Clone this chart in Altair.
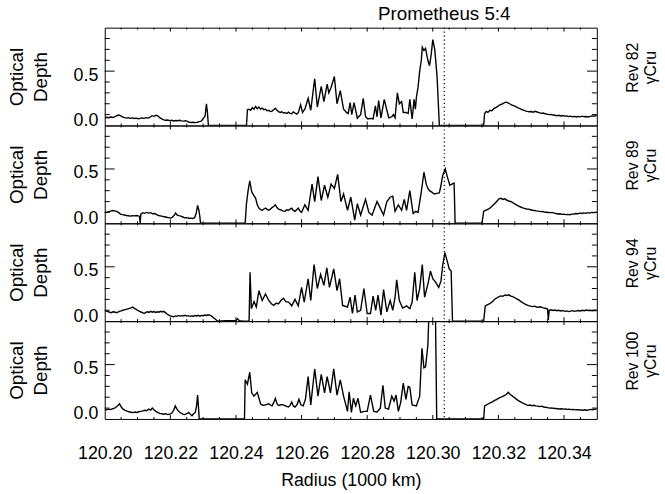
import altair as alt
import pandas as pd

FONT = "Liberation Sans"
W, H = 498, 99
X_DOMAIN = [120.20, 120.35]
Y_DOMAIN = [0.0, 0.9]

X_LABELS = [120.20, 120.22, 120.24, 120.26, 120.28, 120.30, 120.32, 120.34]
X_MINOR = [120.205, 120.210, 120.215, 120.225, 120.230, 120.235, 120.245, 120.250,
           120.255, 120.265, 120.270, 120.275, 120.285, 120.290, 120.295, 120.305,
           120.310, 120.315, 120.325, 120.330, 120.335, 120.345]
Y_LABELS = [0.0, 0.5]
Y_MINOR = [0.1, 0.2, 0.3, 0.4, 0.6, 0.7, 0.8]
RESONANCE_R = 120.3035
RESONANCE_LABEL = "Prometheus 5:4"
X_TITLE = "Radius (1000 km)"
Y_TITLE = ["Optical", "Depth"]
PANEL_LABELS = [["Rev 82", "γCru"], ["Rev 89", "γCru"], ["Rev 94", "γCru"], ["Rev 100", "γCru"]]

REV82 = [
    (120.2000, 0.070), (120.2006, 0.076), (120.2012, 0.072), (120.2018, 0.078), (120.2024, 0.074),
    (120.2030, 0.080), (120.2036, 0.088), (120.2042, 0.096), (120.2048, 0.090), (120.2054, 0.080),
    (120.2060, 0.072), (120.2066, 0.068), (120.2072, 0.072), (120.2078, 0.066), (120.2084, 0.070),
    (120.2090, 0.064), (120.2096, 0.068), (120.2102, 0.062), (120.2108, 0.066), (120.2114, 0.070),
    (120.2120, 0.066), (120.2126, 0.072), (120.2132, 0.068), (120.2138, 0.076), (120.2144, 0.090),
    (120.2150, 0.084), (120.2156, 0.094), (120.2162, 0.088), (120.2168, 0.072), (120.2174, 0.060),
    (120.2180, 0.052), (120.2186, 0.048), (120.2192, 0.050), (120.2198, 0.045), (120.2204, 0.048),
    (120.2210, 0.042), (120.2216, 0.046), (120.2222, 0.044), (120.2228, 0.048), (120.2234, 0.042),
    (120.2240, 0.040), (120.2246, 0.044), (120.2252, 0.038), (120.2258, 0.030), (120.2264, 0.028),
    (120.2270, 0.030), (120.2276, 0.026), (120.2282, 0.030), (120.2288, 0.036), (120.2294, 0.040),
    (120.2298, 0.055), (120.2303, 0.075), (120.2306, 0.090), (120.2310, 0.200), (120.2313, 0.120),
    (120.2316, 0.000), (120.2432, 0.000), (120.2435, 0.145), (120.2440, 0.150), (120.2445, 0.140),
    (120.2450, 0.165), (120.2455, 0.150), (120.2460, 0.175), (120.2465, 0.155), (120.2470, 0.170),
    (120.2475, 0.150), (120.2480, 0.160), (120.2485, 0.145), (120.2490, 0.150), (120.2495, 0.135),
    (120.2500, 0.140), (120.2505, 0.128), (120.2510, 0.132), (120.2515, 0.145), (120.2520, 0.158),
    (120.2525, 0.140), (120.2530, 0.128), (120.2535, 0.120), (120.2540, 0.126), (120.2545, 0.115),
    (120.2550, 0.118), (120.2555, 0.110), (120.2560, 0.122), (120.2565, 0.112), (120.2570, 0.108),
    (120.2575, 0.125), (120.2580, 0.115), (120.2585, 0.105), (120.2590, 0.118), (120.2597, 0.190),
    (120.2603, 0.120), (120.2610, 0.150), (120.2620, 0.250), (120.2628, 0.140), (120.2640, 0.430),
    (120.2648, 0.170), (120.2660, 0.360), (120.2668, 0.220), (120.2678, 0.380), (120.2683, 0.300),
    (120.2690, 0.350), (120.2700, 0.450), (120.2708, 0.200), (120.2718, 0.320), (120.2728, 0.150),
    (120.2737, 0.120), (120.2742, 0.110), (120.2748, 0.210), (120.2753, 0.100), (120.2760, 0.210),
    (120.2770, 0.067), (120.2780, 0.100), (120.2788, 0.250), (120.2795, 0.080), (120.2802, 0.060),
    (120.2810, 0.065), (120.2818, 0.060), (120.2825, 0.180), (120.2830, 0.080), (120.2835, 0.230),
    (120.2842, 0.070), (120.2852, 0.240), (120.2860, 0.140), (120.2866, 0.070), (120.2875, 0.080),
    (120.2880, 0.100), (120.2885, 0.070), (120.2892, 0.300), (120.2898, 0.200), (120.2905, 0.220),
    (120.2910, 0.120), (120.2918, 0.120), (120.2925, 0.110), (120.2930, 0.240), (120.2937, 0.060),
    (120.2943, 0.240), (120.2947, 0.150), (120.2950, 0.260), (120.2955, 0.350), (120.2960, 0.500),
    (120.2965, 0.600), (120.2968, 0.720), (120.2973, 0.690), (120.2978, 0.710), (120.2985, 0.600),
    (120.2990, 0.550), (120.2995, 0.650), (120.3000, 0.790), (120.3006, 0.700), (120.3013, 0.450),
    (120.3020, 0.000), (120.3155, 0.000), (120.3158, 0.110), (120.3163, 0.130), (120.3168, 0.120),
    (120.3174, 0.140), (120.3180, 0.135), (120.3186, 0.155), (120.3192, 0.165), (120.3198, 0.175),
    (120.3204, 0.190), (120.3210, 0.195), (120.3216, 0.205), (120.3222, 0.215), (120.3228, 0.210),
    (120.3234, 0.200), (120.3240, 0.190), (120.3246, 0.182), (120.3252, 0.175), (120.3258, 0.165),
    (120.3264, 0.158), (120.3270, 0.148), (120.3276, 0.142), (120.3282, 0.135), (120.3288, 0.130),
    (120.3294, 0.126), (120.3300, 0.128), (120.3306, 0.122), (120.3312, 0.130), (120.3318, 0.124),
    (120.3324, 0.118), (120.3330, 0.112), (120.3336, 0.115), (120.3342, 0.108), (120.3348, 0.104),
    (120.3354, 0.100), (120.3360, 0.102), (120.3366, 0.096), (120.3372, 0.094), (120.3378, 0.090),
    (120.3384, 0.094), (120.3390, 0.088), (120.3396, 0.092), (120.3402, 0.086), (120.3408, 0.088),
    (120.3414, 0.082), (120.3420, 0.086), (120.3426, 0.080), (120.3432, 0.084), (120.3438, 0.078),
    (120.3444, 0.084), (120.3450, 0.080), (120.3456, 0.086), (120.3462, 0.080), (120.3468, 0.082),
    (120.3474, 0.078), (120.3480, 0.084), (120.3486, 0.088), (120.3492, 0.086), (120.3500, 0.092),
]

REV89 = [
    (120.2000, 0.106), (120.2006, 0.100), (120.2012, 0.108), (120.2018, 0.112), (120.2024, 0.118),
    (120.2030, 0.114), (120.2036, 0.110), (120.2042, 0.100), (120.2048, 0.085), (120.2054, 0.080),
    (120.2060, 0.076), (120.2066, 0.072), (120.2072, 0.070), (120.2078, 0.066), (120.2084, 0.070),
    (120.2090, 0.068), (120.2096, 0.072), (120.2102, 0.068), (120.2106, 0.064), (120.2108, 0.000),
    (120.2110, 0.085), (120.2116, 0.098), (120.2122, 0.092), (120.2128, 0.100), (120.2134, 0.094),
    (120.2140, 0.098), (120.2146, 0.088), (120.2152, 0.090), (120.2158, 0.080), (120.2164, 0.072),
    (120.2170, 0.068), (120.2176, 0.064), (120.2182, 0.060), (120.2188, 0.056), (120.2194, 0.052),
    (120.2200, 0.048), (120.2206, 0.055), (120.2212, 0.075), (120.2216, 0.095), (120.2220, 0.078),
    (120.2226, 0.070), (120.2232, 0.066), (120.2238, 0.058), (120.2244, 0.050), (120.2250, 0.052),
    (120.2256, 0.046), (120.2262, 0.048), (120.2268, 0.044), (120.2274, 0.052), (120.2279, 0.095),
    (120.2283, 0.165), (120.2287, 0.120), (120.2290, 0.060), (120.2292, 0.000), (120.2428, 0.000),
    (120.2432, 0.180), (120.2437, 0.300), (120.2442, 0.390), (120.2448, 0.290), (120.2454, 0.260),
    (120.2460, 0.230), (120.2465, 0.170), (120.2470, 0.140), (120.2475, 0.125), (120.2480, 0.120),
    (120.2485, 0.132), (120.2490, 0.140), (120.2495, 0.128), (120.2500, 0.120), (120.2505, 0.130),
    (120.2510, 0.145), (120.2515, 0.155), (120.2520, 0.170), (120.2525, 0.145), (120.2530, 0.130),
    (120.2535, 0.125), (120.2540, 0.118), (120.2545, 0.112), (120.2550, 0.110), (120.2555, 0.125),
    (120.2560, 0.120), (120.2565, 0.130), (120.2570, 0.140), (120.2575, 0.118), (120.2580, 0.110),
    (120.2585, 0.125), (120.2590, 0.140), (120.2595, 0.112), (120.2600, 0.100), (120.2610, 0.170),
    (120.2620, 0.120), (120.2632, 0.360), (120.2640, 0.200), (120.2650, 0.430), (120.2660, 0.210),
    (120.2670, 0.350), (120.2680, 0.240), (120.2690, 0.360), (120.2700, 0.320), (120.2710, 0.450),
    (120.2720, 0.200), (120.2728, 0.270), (120.2740, 0.120), (120.2750, 0.240), (120.2758, 0.100),
    (120.2762, 0.030), (120.2770, 0.180), (120.2780, 0.076), (120.2795, 0.220), (120.2805, 0.100),
    (120.2815, 0.076), (120.2830, 0.200), (120.2840, 0.140), (120.2850, 0.076), (120.2860, 0.200),
    (120.2870, 0.240), (120.2878, 0.250), (120.2885, 0.110), (120.2895, 0.170), (120.2905, 0.120),
    (120.2913, 0.220), (120.2920, 0.120), (120.2930, 0.300), (120.2940, 0.090), (120.2948, 0.110),
    (120.2955, 0.100), (120.2965, 0.290), (120.2973, 0.470), (120.2980, 0.360), (120.2985, 0.320),
    (120.2990, 0.300), (120.2998, 0.285), (120.3005, 0.270), (120.3012, 0.275), (120.3020, 0.280),
    (120.3025, 0.350), (120.3030, 0.440), (120.3038, 0.500), (120.3045, 0.420), (120.3052, 0.350),
    (120.3058, 0.360), (120.3065, 0.370), (120.3068, 0.000), (120.3150, 0.000), (120.3155, 0.110),
    (120.3160, 0.118), (120.3166, 0.125), (120.3172, 0.135), (120.3178, 0.150), (120.3184, 0.168),
    (120.3190, 0.185), (120.3196, 0.205), (120.3202, 0.225), (120.3208, 0.230), (120.3214, 0.220),
    (120.3220, 0.225), (120.3226, 0.212), (120.3232, 0.205), (120.3238, 0.200), (120.3244, 0.190),
    (120.3250, 0.178), (120.3256, 0.168), (120.3262, 0.158), (120.3268, 0.150), (120.3274, 0.142),
    (120.3280, 0.138), (120.3286, 0.132), (120.3292, 0.130), (120.3298, 0.125), (120.3304, 0.120),
    (120.3310, 0.118), (120.3316, 0.114), (120.3322, 0.112), (120.3328, 0.108), (120.3334, 0.110),
    (120.3340, 0.104), (120.3346, 0.102), (120.3352, 0.100), (120.3358, 0.098), (120.3364, 0.100),
    (120.3370, 0.094), (120.3376, 0.090), (120.3382, 0.086), (120.3388, 0.088), (120.3394, 0.082),
    (120.3400, 0.084), (120.3406, 0.080), (120.3412, 0.082), (120.3418, 0.078), (120.3424, 0.084),
    (120.3430, 0.086), (120.3436, 0.090), (120.3442, 0.088), (120.3448, 0.094), (120.3454, 0.090),
    (120.3460, 0.096), (120.3466, 0.092), (120.3472, 0.098), (120.3478, 0.094), (120.3484, 0.100),
    (120.3490, 0.098), (120.3500, 0.102),
]

REV94 = [
    (120.2000, 0.100), (120.2005, 0.092), (120.2010, 0.088), (120.2015, 0.082), (120.2020, 0.078),
    (120.2025, 0.086), (120.2030, 0.084), (120.2035, 0.078), (120.2040, 0.082), (120.2045, 0.090),
    (120.2050, 0.094), (120.2055, 0.100), (120.2060, 0.104), (120.2065, 0.108), (120.2070, 0.112),
    (120.2075, 0.118), (120.2080, 0.122), (120.2085, 0.130), (120.2090, 0.118), (120.2095, 0.110),
    (120.2100, 0.100), (120.2105, 0.092), (120.2110, 0.084), (120.2115, 0.078), (120.2120, 0.070),
    (120.2125, 0.080), (120.2130, 0.086), (120.2135, 0.080), (120.2140, 0.090), (120.2145, 0.082),
    (120.2150, 0.088), (120.2155, 0.080), (120.2160, 0.086), (120.2165, 0.082), (120.2170, 0.090),
    (120.2175, 0.084), (120.2180, 0.090), (120.2185, 0.078), (120.2190, 0.066), (120.2195, 0.055),
    (120.2200, 0.048), (120.2205, 0.044), (120.2210, 0.040), (120.2215, 0.048), (120.2220, 0.044),
    (120.2225, 0.052), (120.2230, 0.046), (120.2235, 0.050), (120.2240, 0.048), (120.2245, 0.054),
    (120.2250, 0.046), (120.2255, 0.050), (120.2260, 0.044), (120.2265, 0.048), (120.2270, 0.045),
    (120.2275, 0.052), (120.2280, 0.048), (120.2285, 0.054), (120.2290, 0.046), (120.2295, 0.052),
    (120.2300, 0.050), (120.2305, 0.056), (120.2310, 0.052), (120.2315, 0.058), (120.2320, 0.055),
    (120.2325, 0.048), (120.2330, 0.035), (120.2335, 0.025), (120.2340, 0.010), (120.2345, 0.000),
    (120.2370, 0.005), (120.2385, 0.003), (120.2400, 0.006), (120.2405, 0.022), (120.2410, 0.005),
    (120.2420, 0.002), (120.2440, 0.000), (120.2443, 0.450), (120.2447, 0.115), (120.2455, 0.180),
    (120.2462, 0.130), (120.2470, 0.280), (120.2480, 0.190), (120.2490, 0.250), (120.2500, 0.190),
    (120.2508, 0.160), (120.2515, 0.145), (120.2522, 0.165), (120.2530, 0.160), (120.2537, 0.190),
    (120.2545, 0.210), (120.2552, 0.180), (120.2560, 0.175), (120.2565, 0.160), (120.2570, 0.140),
    (120.2580, 0.200), (120.2590, 0.140), (120.2600, 0.310), (120.2608, 0.175), (120.2620, 0.390),
    (120.2628, 0.190), (120.2638, 0.520), (120.2648, 0.300), (120.2658, 0.430), (120.2668, 0.330),
    (120.2677, 0.490), (120.2685, 0.310), (120.2698, 0.480), (120.2708, 0.280), (120.2716, 0.390),
    (120.2725, 0.145), (120.2740, 0.130), (120.2748, 0.220), (120.2755, 0.070), (120.2763, 0.240),
    (120.2770, 0.085), (120.2780, 0.100), (120.2790, 0.300), (120.2800, 0.070), (120.2810, 0.070),
    (120.2818, 0.230), (120.2826, 0.100), (120.2833, 0.240), (120.2842, 0.055), (120.2850, 0.290),
    (120.2860, 0.085), (120.2870, 0.190), (120.2878, 0.100), (120.2885, 0.220), (120.2890, 0.380),
    (120.2898, 0.190), (120.2908, 0.120), (120.2920, 0.140), (120.2930, 0.115), (120.2937, 0.175),
    (120.2945, 0.450), (120.2952, 0.190), (120.2960, 0.300), (120.2968, 0.520), (120.2975, 0.220),
    (120.2985, 0.340), (120.2993, 0.460), (120.3000, 0.390), (120.3008, 0.360), (120.3018, 0.310),
    (120.3025, 0.370), (120.3030, 0.510), (120.3037, 0.630), (120.3045, 0.540), (120.3050, 0.480),
    (120.3056, 0.460), (120.3060, 0.000), (120.3155, 0.000), (120.3160, 0.140), (120.3166, 0.150),
    (120.3172, 0.158), (120.3178, 0.170), (120.3184, 0.185), (120.3190, 0.205), (120.3196, 0.215),
    (120.3202, 0.225), (120.3208, 0.232), (120.3214, 0.228), (120.3220, 0.240), (120.3226, 0.236),
    (120.3232, 0.242), (120.3238, 0.230), (120.3244, 0.225), (120.3250, 0.215), (120.3256, 0.205),
    (120.3262, 0.195), (120.3268, 0.182), (120.3274, 0.170), (120.3280, 0.158), (120.3286, 0.150),
    (120.3292, 0.142), (120.3298, 0.138), (120.3304, 0.134), (120.3310, 0.138), (120.3316, 0.130),
    (120.3322, 0.128), (120.3328, 0.132), (120.3334, 0.124), (120.3340, 0.120), (120.3346, 0.116),
    (120.3350, 0.110), (120.3352, 0.010), (120.3355, 0.100), (120.3360, 0.104), (120.3366, 0.098),
    (120.3372, 0.102), (120.3378, 0.096), (120.3384, 0.100), (120.3390, 0.094), (120.3396, 0.098),
    (120.3402, 0.090), (120.3408, 0.094), (120.3414, 0.088), (120.3420, 0.092), (120.3426, 0.096),
    (120.3432, 0.090), (120.3438, 0.094), (120.3444, 0.098), (120.3450, 0.094), (120.3456, 0.100),
    (120.3462, 0.096), (120.3468, 0.102), (120.3474, 0.098), (120.3480, 0.100), (120.3486, 0.096),
    (120.3492, 0.100), (120.3500, 0.098),
]

REV100 = [
    (120.2000, 0.090), (120.2006, 0.084), (120.2012, 0.090), (120.2018, 0.086), (120.2024, 0.094),
    (120.2030, 0.100), (120.2036, 0.112), (120.2041, 0.125), (120.2045, 0.140), (120.2050, 0.112),
    (120.2055, 0.092), (120.2062, 0.080), (120.2068, 0.072), (120.2074, 0.066), (120.2080, 0.062),
    (120.2086, 0.058), (120.2092, 0.064), (120.2098, 0.060), (120.2104, 0.066), (120.2110, 0.070),
    (120.2116, 0.074), (120.2122, 0.080), (120.2128, 0.076), (120.2134, 0.090), (120.2140, 0.082),
    (120.2145, 0.100), (120.2150, 0.084), (120.2156, 0.070), (120.2162, 0.058), (120.2168, 0.052),
    (120.2174, 0.048), (120.2180, 0.044), (120.2186, 0.048), (120.2192, 0.040), (120.2198, 0.044),
    (120.2204, 0.052), (120.2210, 0.080), (120.2215, 0.120), (120.2220, 0.090), (120.2226, 0.068),
    (120.2232, 0.055), (120.2238, 0.044), (120.2244, 0.040), (120.2250, 0.048), (120.2256, 0.060),
    (120.2262, 0.040), (120.2266, 0.030), (120.2270, 0.045), (120.2276, 0.060), (120.2280, 0.120),
    (120.2283, 0.220), (120.2286, 0.100), (120.2288, 0.000), (120.2426, 0.000), (120.2428, 0.360),
    (120.2435, 0.320), (120.2442, 0.430), (120.2448, 0.240), (120.2455, 0.210), (120.2465, 0.245),
    (120.2475, 0.140), (120.2480, 0.128), (120.2485, 0.125), (120.2492, 0.132), (120.2500, 0.140),
    (120.2505, 0.128), (120.2510, 0.120), (120.2515, 0.150), (120.2520, 0.190), (120.2525, 0.140),
    (120.2530, 0.125), (120.2538, 0.132), (120.2545, 0.130), (120.2552, 0.118), (120.2560, 0.110),
    (120.2565, 0.125), (120.2570, 0.155), (120.2575, 0.120), (120.2580, 0.110), (120.2586, 0.130),
    (120.2592, 0.180), (120.2598, 0.130), (120.2605, 0.120), (120.2612, 0.185), (120.2620, 0.390),
    (120.2628, 0.130), (120.2640, 0.460), (120.2650, 0.210), (120.2660, 0.410), (120.2670, 0.240),
    (120.2678, 0.390), (120.2688, 0.240), (120.2698, 0.460), (120.2708, 0.220), (120.2718, 0.360),
    (120.2728, 0.210), (120.2740, 0.070), (120.2745, 0.250), (120.2752, 0.060), (120.2758, 0.190),
    (120.2765, 0.120), (120.2772, 0.190), (120.2780, 0.060), (120.2790, 0.070), (120.2800, 0.070),
    (120.2810, 0.220), (120.2820, 0.070), (120.2830, 0.065), (120.2840, 0.100), (120.2848, 0.310),
    (120.2855, 0.100), (120.2865, 0.090), (120.2875, 0.210), (120.2882, 0.165), (120.2888, 0.220),
    (120.2895, 0.070), (120.2902, 0.150), (120.2910, 0.330), (120.2918, 0.180), (120.2925, 0.300),
    (120.2930, 0.290), (120.2937, 0.130), (120.2950, 0.120), (120.2960, 0.210), (120.2967, 0.650),
    (120.2973, 0.470), (120.2978, 0.480), (120.2985, 0.680), (120.2988, 0.950), (120.2992, 1.000),
    (120.3008, 1.000), (120.3012, 0.000), (120.3155, 0.000), (120.3158, 0.120), (120.3164, 0.130),
    (120.3170, 0.140), (120.3176, 0.150), (120.3182, 0.158), (120.3188, 0.170), (120.3194, 0.178),
    (120.3200, 0.190), (120.3206, 0.198), (120.3212, 0.205), (120.3218, 0.215), (120.3224, 0.225),
    (120.3230, 0.245), (120.3236, 0.225), (120.3242, 0.212), (120.3248, 0.198), (120.3254, 0.185),
    (120.3260, 0.170), (120.3266, 0.160), (120.3272, 0.150), (120.3278, 0.140), (120.3284, 0.132),
    (120.3290, 0.125), (120.3296, 0.128), (120.3302, 0.122), (120.3308, 0.126), (120.3314, 0.120),
    (120.3320, 0.118), (120.3326, 0.114), (120.3332, 0.118), (120.3338, 0.110), (120.3344, 0.108),
    (120.3350, 0.104), (120.3356, 0.100), (120.3362, 0.102), (120.3368, 0.098), (120.3374, 0.096),
    (120.3380, 0.094), (120.3386, 0.092), (120.3392, 0.094), (120.3398, 0.090), (120.3404, 0.092),
    (120.3410, 0.088), (120.3416, 0.090), (120.3422, 0.086), (120.3428, 0.088), (120.3434, 0.084),
    (120.3440, 0.086), (120.3446, 0.082), (120.3452, 0.084), (120.3458, 0.080), (120.3464, 0.084),
    (120.3470, 0.080), (120.3476, 0.084), (120.3482, 0.088), (120.3488, 0.084), (120.3494, 0.090),
    (120.3500, 0.092),
]

SERIES = [REV82, REV89, REV94, REV100]

X_MAJOR_TICK, X_MINOR_TICK = 4, 2
Y_MAJOR_TICK, Y_MINOR_TICK = 10, 5


def panel(points, label, first, last):
    df = pd.DataFrame(points, columns=["r", "d"])
    if last:
        xaxis = alt.Axis(values=X_LABELS, format=".2f", title=X_TITLE, ticks=False,
                         domain=False, grid=False, labelFlush=False, labelPadding=26,
                         titlePadding=9)
    else:
        xaxis = None
    yaxis = alt.Axis(values=Y_LABELS, format=".1f", title=Y_TITLE, ticks=False,
                     domain=False, grid=False, labelPadding=7, titlePadding=23,
                     titleLineHeight=24, titleFontSize=19,
                     labelOffset={"condition": {"test": "datum.value === 0", "value": -5},
                                  "value": 4})
    xs = alt.Scale(domain=X_DOMAIN, nice=False, zero=False)
    ys = alt.Scale(domain=Y_DOMAIN, nice=False, zero=False)
    x = alt.X("r:Q", scale=xs, axis=xaxis)
    y = alt.Y("d:Q", scale=ys, axis=yaxis)

    line = alt.Chart(df).mark_line(color="black", strokeWidth=1.4, clip=True,
                                   interpolate="linear").encode(x=x, y=y)

    xmaj = pd.DataFrame({"r": X_LABELS[1:]})
    xmin = pd.DataFrame({"r": X_MINOR})
    ymaj = pd.DataFrame({"d": [0.5]})
    ymin = pd.DataFrame({"d": Y_MINOR})
    rule = dict(color="black", strokeWidth=1)
    layers = [
        alt.Chart(xmaj).mark_rule(**rule).encode(x=x, y=alt.value(H), y2=alt.value(H - X_MAJOR_TICK)),
        alt.Chart(xmaj).mark_rule(**rule).encode(x=x, y=alt.value(0), y2=alt.value(X_MAJOR_TICK)),
        alt.Chart(xmin).mark_rule(**rule).encode(x=x, y=alt.value(H), y2=alt.value(H - X_MINOR_TICK)),
        alt.Chart(xmin).mark_rule(**rule).encode(x=x, y=alt.value(0), y2=alt.value(X_MINOR_TICK)),
        alt.Chart(ymaj).mark_rule(**rule).encode(y=y, x=alt.value(0), x2=alt.value(Y_MAJOR_TICK)),
        alt.Chart(ymaj).mark_rule(**rule).encode(y=y, x=alt.value(W), x2=alt.value(W - Y_MAJOR_TICK)),
        alt.Chart(ymin).mark_rule(**rule).encode(y=y, x=alt.value(0), x2=alt.value(Y_MINOR_TICK)),
        alt.Chart(ymin).mark_rule(**rule).encode(y=y, x=alt.value(W), x2=alt.value(W - Y_MINOR_TICK)),
        line,
        alt.Chart(pd.DataFrame({"r": [RESONANCE_R]})).mark_rule(
            color="black", strokeWidth=1.2, strokeDash=[1.2, 2.8]
        ).encode(x=x, y=alt.value(0), y2=alt.value(H)),
        alt.Chart(pd.DataFrame({"k": [0]})).mark_text(
            font=FONT, fontSize=16, angle=270, lineHeight=18, align="center",
            baseline="middle", color="black"
        ).encode(x=alt.value(W + 37), y=alt.value(H / 2 - 9), text=alt.value(label)),
    ]
    if first:
        layers.append(
            alt.Chart(pd.DataFrame({"r": [RESONANCE_R], "t": [RESONANCE_LABEL]})).mark_text(
                font=FONT, fontSize=19, align="center", baseline="middle", color="black"
            ).encode(x=x, y=alt.value(-14), text="t:N")
        )
    return alt.layer(*layers).properties(width=W, height=H)


panels = [panel(pts, lab, i == 0, i == len(SERIES) - 1)
          for i, (pts, lab) in enumerate(zip(SERIES, PANEL_LABELS))]

chart = (
    alt.vconcat(*panels, spacing=0, bounds="flush")
    .properties(padding={"left": 7, "top": 1, "right": 5, "bottom": 5})
    .configure_view(stroke="black", strokeWidth=1)
    .configure_axis(labelFont=FONT, titleFont=FONT, labelFontSize=18, titleFontSize=18,
                    labelColor="black", titleColor="black", titleFontWeight="normal")
)

chart.save("out.html", embed_options={"renderer": "svg", "actions": False})
